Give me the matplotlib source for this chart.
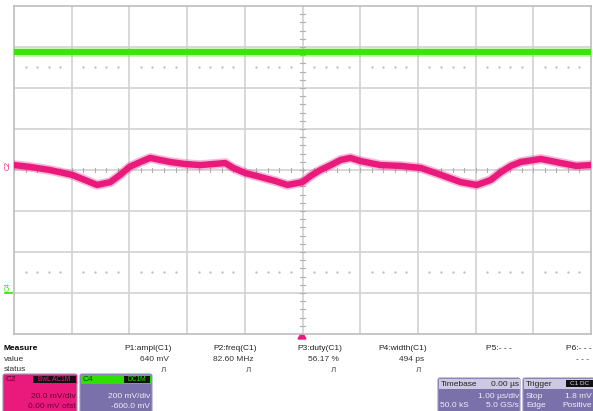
import matplotlib
matplotlib.use("Agg")
import matplotlib.pyplot as plt
from matplotlib.patches import Rectangle, FancyBboxPatch, Polygon

# C2 trace: time (us) and level (mV), 20 mV/div
c2_t = [-5.0, -4.72, -4.38, -3.99, -3.77, -3.56, -3.33, -3.16, -3.0, -2.81,
        -2.64, -2.47, -2.29, -2.03, -1.77, -1.34, -1.2, -0.99, -0.73, -0.47,
        -0.26, 0.0, 0.14, 0.31, 0.49, 0.66, 0.83, 1.0, 1.35, 1.7,
        2.05, 2.4, 2.74, 3.02, 3.26, 3.44, 3.61, 3.78, 4.13, 4.48, 4.74, 5.0]
c2_mv = [2.4, 1.5, 0.0, -2.4, -4.9, -7.3, -5.9, -2.4, 1.5, 3.9,
         5.9, 4.9, 3.9, 2.9, 2.4, 3.4, 1.0, -1.5, -3.4, -5.4,
         -7.3, -5.9, -2.9, 0.0, 2.4, 4.9, 5.9, 4.4, 2.4, 2.0,
         1.0, -2.4, -5.9, -7.3, -4.9, -1.0, 2.0, 3.9, 5.4, 3.4, 2.0, 2.4]
c2_vdiv = 20.0
c2_ofs = 0.0

# C4 trace: flat level (V), 200 mV/div, -600 mV offset
c4_t = [-5.0, -2.5, 0.0, 2.5, 5.0]
c4_v = [1.176, 1.176, 1.176, 1.176, 1.176]
c4_vdiv = 0.2
c4_ofs = -0.6

meas_names = ["P1:ampl(C1)", "P2:freq(C1)", "P3:duty(C1)", "P4:width(C1)", "P5:- - -", "P6:- - -"]
meas_values = ["640 mV", "82.60 MHz", "56.17 %", "494 ps", "", "- - -"]
meas_status = ["\u041b", "\u041b", "\u041b", "\u041b", "", ""]

PINK = "#ea1a7d"
GREEN = "#2ee000"
PURPLE = "#7a70aa"
LAV = "#cdc9e2"
GRID = "#d2d2d2"

W, H = 593, 411
fig = plt.figure(figsize=(W / 100, H / 100), dpi=100)
fig.patch.set_facecolor("white")

# overlay in pixel coordinates for the info panel
ui = fig.add_axes([0, 0, 1, 1])
ui.set_xlim(0, W)
ui.set_ylim(H, 0)
ui.axis("off")

ax = fig.add_axes([14 / W, 1 - 334 / H, 577 / W, 328 / H])
ax.set_xlim(-5, 5)
ax.set_ylim(-4, 4)
ax.set_xticks([])
ax.set_yticks([])
for s in ax.spines.values():
	s.set_color("#bdbdbd")
	s.set_linewidth(1.2)

# graticule
for i in range(-4, 5):
	ax.axvline(i, color=GRID, lw=1.2, zorder=1)
for j in range(-3, 4):
	ax.axhline(j, color=GRID, lw=1.2, zorder=1)

# small ticks on centre lines
k = -5.0
while k <= 5.0:
	ax.plot([k, k], [-0.06, 0.06], color="#b0b0b0", lw=0.8, zorder=1)
	k += 0.2
k = -4.0
while k <= 4.0:
	ax.plot([-0.05, 0.05], [k, k], color="#b0b0b0", lw=0.8, zorder=1)
	k += 0.2

# dotted reference lines
dots = [-5 + 0.2 * n for n in range(51) if n % 5 != 0]
for lvl in [2.5, -2.5]:
	ax.scatter(dots, [lvl] * len(dots), s=0.5, color="#c0c0c0", zorder=1)

c4_div = [(v + c4_ofs) / c4_vdiv for v in c4_v]
c2_div = [(v + c2_ofs) / c2_vdiv for v in c2_mv]
ax.plot(c4_t, c4_div, color=GREEN, lw=4.3, solid_capstyle="butt", zorder=3)
ax.plot(c4_t, c4_div, color="#55ee22", lw=6.5, alpha=0.35, solid_capstyle="butt", zorder=3)
ax.plot(c2_t, c2_div, color=PINK, lw=4.6, solid_joinstyle="round", zorder=3)
ax.plot(c2_t, c2_div, color=PINK, lw=7.0, alpha=0.3, zorder=3)

# channel markers on the left edge
fig.text(8 / W, 1 - 166 / H, "C2", color=PINK, fontsize=5, rotation=90,
	ha="center", va="center", family="Liberation Sans")
fig.text(8 / W, 1 - 287 / H, "C4", color=GREEN, fontsize=5, rotation=90,
	ha="center", va="center", family="Liberation Sans")
ui.plot([5, 12], [293, 293], color=GREEN, lw=1.2)

# trigger position marker
ui.add_patch(Polygon([[298, 339], [306, 339], [302, 332]], closed=True, color=PINK))

fs = 6.0
fam = "Liberation Sans"
ui.text(4, 348, "Measure", fontsize=fs, fontweight="bold", va="center", family=fam)
ui.text(4, 359.5, "value", fontsize=fs, va="center", family=fam, color="#333333")
ui.text(4, 369.5, "status", fontsize=fs, va="center", family=fam, color="#333333")

col_right = [172, 257, 342, 427, 512, 592]
for i in range(len(meas_names)):
	ui.text(col_right[i], 348, meas_names[i], fontsize=fs, ha="right", va="center", family=fam, color="#222222")
	ui.text(col_right[i] - 3, 359.5, meas_values[i], fontsize=fs, ha="right", va="center", family=fam, color="#333333")
	ui.text(col_right[i] - 6, 369.5, meas_status[i], fontsize=5, ha="right", va="center", family="DejaVu Sans", color="#444444")


def box(x0, x1, head_col, body_col):
	ui.add_patch(FancyBboxPatch((x0, 374), x1 - x0, 45, boxstyle="round,pad=0,rounding_size=2",
		fc=body_col, ec="#9a94c0", lw=0.8))
	ui.add_patch(Rectangle((x0 + 0.5, 374.5), x1 - x0 - 1, 9.5, fc=head_col, ec="none"))


def badge(x0, x1, txt, col):
	ui.add_patch(Rectangle((x0, 375.5), x1 - x0, 7, fc="#111111", ec="none"))
	ui.text((x0 + x1) / 2, 379.3, txt, fontsize=4.8, ha="center", va="center", color=col, family=fam)

# C2 box
box(3, 77, PINK, PINK)
ui.text(6, 379, "C2", fontsize=fs, va="center", color="#5a0028", family=fam)
badge(33, 76, "BwL AC1M", PINK)
ui.text(76, 396, "20.0 mV/div", fontsize=fs, ha="right", va="center", color="#6a0032", family=fam)
ui.text(76, 406, "0.00 mV ofst", fontsize=fs, ha="right", va="center", color="#6a0032", family=fam)

# C4 box
box(80, 152, GREEN, PURPLE)
ui.text(83, 379, "C4", fontsize=fs, va="center", color="#114400", family=fam)
badge(124, 150, "DC1M", GREEN)
ui.text(150, 396, "200 mV/div", fontsize=fs, ha="right", va="center", color="#f0eefa", family=fam)
ui.text(150, 406, "-600.0 mV", fontsize=fs, ha="right", va="center", color="#f0eefa", family=fam)

# Timebase box
ui.add_patch(FancyBboxPatch((438, 378), 82, 40, boxstyle="round,pad=0,rounding_size=2",
	fc=PURPLE, ec="#9a94c0", lw=0.8))
ui.add_patch(Rectangle((438.5, 378.5), 81, 10, fc=LAV, ec="none"))
ui.text(441, 384, "Timebase", fontsize=fs, va="center", color="#222222", family=fam)
ui.text(519, 384, "0.00 \u00b5s", fontsize=fs, ha="right", va="center", color="#222222", family=fam)
ui.text(519, 396, "1.00 \u00b5s/div", fontsize=fs, ha="right", va="center", color="#f0eefa", family=fam)
ui.text(440, 405.5, "50.0 kS", fontsize=fs, va="center", color="#f0eefa", family=fam)
ui.text(519, 405.5, "5.0 GS/s", fontsize=fs, ha="right", va="center", color="#f0eefa", family=fam)

# Trigger box
ui.add_patch(FancyBboxPatch((523, 378), 75, 40, boxstyle="round,pad=0,rounding_size=2",
	fc=PURPLE, ec="#9a94c0", lw=0.8))
ui.add_patch(Rectangle((523.5, 378.5), 74, 10, fc=LAV, ec="none"))
ui.text(526, 384, "Trigger", fontsize=fs, va="center", color="#222222", family=fam)
ui.add_patch(Rectangle((566, 380), 27, 7, fc="#111111", ec="none"))
ui.text(579.5, 383.6, "C1 DC", fontsize=4.6, ha="center", va="center", color="#dddddd", family=fam)
ui.text(526, 396, "Stop", fontsize=fs, va="center", color="#f0eefa", family=fam)
ui.text(592, 396, "1.8 mV", fontsize=fs, ha="right", va="center", color="#f0eefa", family=fam)
ui.text(526, 405.5, "Edge", fontsize=fs, va="center", color="#f0eefa", family=fam)
ui.text(592, 405.5, "Positive", fontsize=fs, ha="right", va="center", color="#f0eefa", family=fam)

fig.savefig("out.png", dpi=100, facecolor="white")
